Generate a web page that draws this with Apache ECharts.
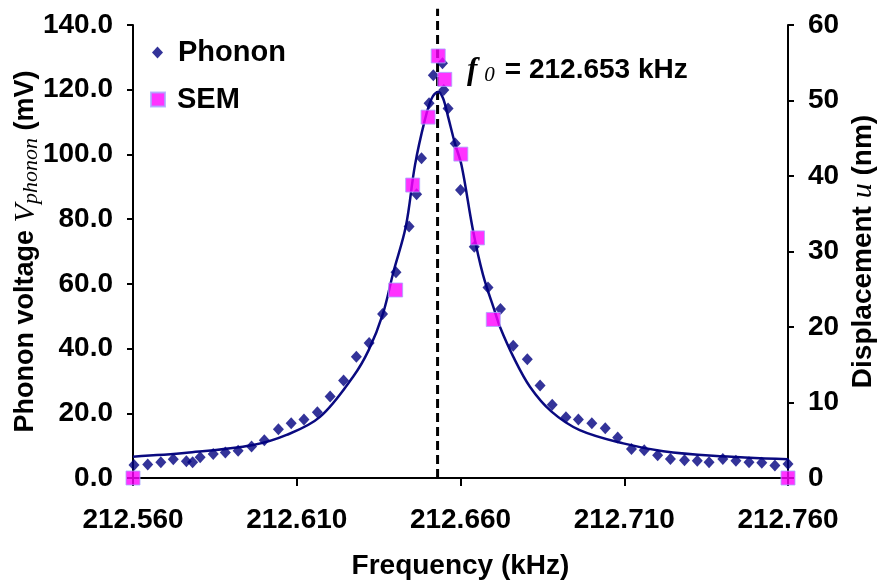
<!DOCTYPE html>
<html>
<head>
<meta charset="utf-8">
<script src="https://cdn.jsdelivr.net/npm/echarts@6/dist/echarts.min.js"></script>
<style>
html,body{margin:0;padding:0;background:#fff;}
#chart{width:878px;height:584px;}
</style>
</head>
<body>
<div id="chart"></div>
<script>
// ---- Data (frequency in kHz) ----
const phononFreq = [212.5603,212.5645,212.5685,212.5723,212.5763,212.5782,212.5805,212.5845,212.5882,212.5921,
  212.5962,212.6001,212.6044,212.6083,212.6122,212.6163,212.6202,212.6243,212.6282,212.6321,
  212.6362,212.6403,212.6443,212.6466,212.6481,212.6504,212.6517,212.6545,212.6549,212.6562,
  212.6584,212.6600,212.6642,212.6684,212.6722,212.6761,212.6804,212.6843,212.6880,212.6922,
  212.6960,212.7001,212.7042,212.7080,212.7122,212.7161,212.7202,212.7241,212.7284,212.7323,
  212.7359,212.7401,212.7441,212.7481,212.7520,212.7560,212.7600];
const phononV = [4.0,4.2,4.9,5.8,5.2,4.9,6.4,7.4,7.9,8.4,
  9.7,11.7,15.1,16.9,18.1,20.3,25.2,30.1,37.5,41.7,
  50.7,63.6,77.7,87.7,98.8,115.8,124.5,128.2,119.9,114.2,
  103.4,89.0,71.5,58.9,52.2,40.9,36.7,28.6,22.6,18.8,
  18.1,16.9,15.4,12.5,9.0,8.6,7.0,5.9,5.5,5.3,
  4.9,5.9,5.3,4.9,4.7,3.9,4.3];

const semFreq = [212.5600,212.6402,212.6454,212.6501,212.6532,212.6552,212.6601,212.6652,212.6700,212.7600];
const semU    = [0,24.9,38.8,47.8,55.9,52.8,42.9,31.8,21.0,0];

const fitFreq = [212.5600,212.5764,212.5967,212.6069,212.6171,212.6272,212.6320,212.6363,212.6395,212.6433,
  212.6461,212.6491,212.6512,212.6532,212.6547,212.6562,212.6583,212.6603,212.6639,212.6669,
  212.6705,212.6720,212.6761,212.6812,212.6878,212.6964,212.7097,212.7219,212.7371,212.7600];
const fitV = [6.6,7.8,10.2,13.3,18.9,31.3,39.6,50.7,63.6,77.7,
  96.7,110.6,117.3,119.4,117.3,111.7,103.4,96.7,76.1,62.7,
  51.4,46.8,37.5,28.2,20.5,14.8,10.7,8.3,6.9,5.8];

const xTicks = [212.560,212.610,212.660,212.710,212.760];
const f0 = 212.653;
const f0LineTop = 145;

// ---- Build ----
const pair = (xs, ys) => xs.map((x, i) => [x, ys[i]]);
const SANS = 'Liberation Sans, Arial, sans-serif';
const SERIF = 'Liberation Serif, Times New Roman, serif';

const chart = echarts.init(document.getElementById('chart'), null, {renderer: 'canvas'});
chart.setOption({
  animation: false,
  backgroundColor: '#ffffff',
  grid: {left: 133, right: 90, top: 25, bottom: 106, containLabel: false, outerBoundsMode: 'none'},
  legend: [
    {data: ['Phonon'], left: 147, top: 33, orient: 'vertical', itemWidth: 11, itemHeight: 12,
     textStyle: {fontFamily: SANS, fontWeight: 'bold', fontSize: 29, color: '#000', padding: [0,0,0,10]}},
    {data: ['SEM'], left: 145, top: 80, orient: 'vertical', itemWidth: 14, itemHeight: 14,
     textStyle: {fontFamily: SANS, fontWeight: 'bold', fontSize: 29, color: '#000', padding: [0,0,0,7]}}
  ],
  xAxis: {
    type: 'value', min: 212.56, max: 212.76,
    name: 'Frequency (kHz)', nameLocation: 'middle', nameGap: 74, nameMoveOverlap: false,
    nameTextStyle: {fontFamily: SANS, fontWeight: 'bold', fontSize: 28, color: '#000'},
    axisLine: {show: true, onZero: false, lineStyle: {color: '#000', width: 2}},
    axisTick: {show: true, customValues: xTicks, length: 8, lineStyle: {color: '#000', width: 2}},
    axisLabel: {customValues: xTicks, margin: 28, fontFamily: SANS, fontWeight: 'bold', fontSize: 28, color: '#000',
      formatter: v => v.toFixed(3)},
    splitLine: {show: false}
  },
  yAxis: [
    {
      type: 'value', min: 0, max: 140, interval: 20, position: 'left',
      name: '{a|Phonon voltage }{v|V}{s|phonon}{a| (mV)}', nameLocation: 'middle', nameGap: 91, nameRotate: 90,
      nameMoveOverlap: false,
      nameTextStyle: {
        padding: [0, 0, 0, 0],
        rich: {
          a: {fontFamily: SANS, fontWeight: 'bold', fontSize: 27, color: '#000'},
          v: {fontFamily: SERIF, fontStyle: 'italic', fontSize: 30, color: '#000'},
          s: {fontFamily: SERIF, fontStyle: 'italic', fontSize: 22, color: '#000', padding: [10,0,0,0]}
        }
      },
      axisLine: {show: true, lineStyle: {color: '#000', width: 2}},
      axisTick: {show: true, length: 6, lineStyle: {color: '#000', width: 2}},
      axisLabel: {margin: 20, fontFamily: SANS, fontWeight: 'bold', fontSize: 28, color: '#000',
        formatter: v => v.toFixed(1)},
      splitLine: {show: false}
    },
    {
      type: 'value', min: 0, max: 60, interval: 10, position: 'right',
      name: '{a|Displacement }{u|u}{a| (nm)}', nameLocation: 'middle', nameGap: 60, nameRotate: 90,
      nameMoveOverlap: false,
      nameTextStyle: {
        rich: {
          a: {fontFamily: SANS, fontWeight: 'bold', fontSize: 28, color: '#000'},
          u: {fontFamily: SERIF, fontStyle: 'italic', fontSize: 30, color: '#000'}
        }
      },
      axisLine: {show: true, lineStyle: {color: '#000', width: 2}},
      axisTick: {show: true, length: 6, lineStyle: {color: '#000', width: 2}},
      axisLabel: {margin: 20, fontFamily: SANS, fontWeight: 'bold', fontSize: 28, color: '#000'},
      splitLine: {show: false}
    }
  ],
  graphic: [{
    type: 'text', left: 467, top: 55, silent: true,
    style: {
      text: '{f|f}{s|0}{a|= 212.653 kHz}',
      rich: {
        f: {fontFamily: SERIF, fontStyle: 'italic', fontWeight: 'bold', fontSize: 31, fill: '#000'},
        s: {fontFamily: SERIF, fontStyle: 'italic', fontSize: 21, fill: '#000', padding: [10,10,0,7]},
        a: {fontFamily: SANS, fontWeight: 'bold', fontSize: 28, fill: '#000'}
      }
    }
  }],
  series: [
    {
      name: 'f0', type: 'line', yAxisIndex: 0, data: [[f0, 0], [f0, f0LineTop]], clip: false,
      symbol: 'none', silent: true, z: 1,
      lineStyle: {color: '#000', width: 3, type: [9, 5]}
    },
    {
      name: 'Fit', type: 'line', yAxisIndex: 0, data: pair(fitFreq, fitV), smooth: 0.35,
      symbol: 'none', silent: true, z: 2,
      lineStyle: {color: '#0a0a80', width: 2.5}
    },
    {
      name: 'Phonon', type: 'scatter', yAxisIndex: 0, data: pair(phononFreq, phononV),
      symbol: 'diamond', symbolSize: [11, 12], z: 3,
      itemStyle: {color: '#000080'}
    },
    {
      name: 'SEM', type: 'scatter', yAxisIndex: 1, data: pair(semFreq, semU),
      symbol: 'rect', symbolSize: 14, z: 4, clip: false,
      itemStyle: {color: '#ff00ff', borderColor: '#a8a8ff', borderWidth: 1}
    }
  ]
});
</script>
</body>
</html>
